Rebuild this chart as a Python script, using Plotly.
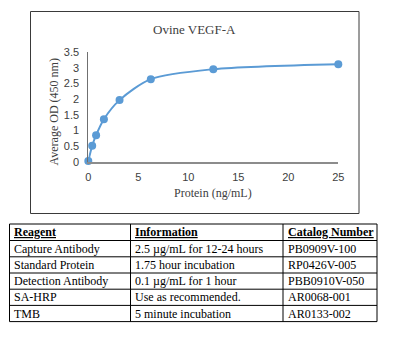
import plotly.graph_objects as go

W, H = 398, 356

protein = [0, 0.39, 0.78, 1.56, 3.125, 6.25, 12.5, 25]
od = [0.02, 0.51, 0.85, 1.36, 1.97, 2.64, 2.96, 3.12]

y_ticks = [0, 0.5, 1, 1.5, 2, 2.5, 3, 3.5]
y_tick_labels = ["0", "0.5", "1", "1.5", "2", "2.5", "3", "3.5"]
x_ticks = [0, 5, 10, 15, 20, 25]

title = "Ovine VEGF-A"
x_title = "Protein (ng/mL)"
y_title = "Average OD (450 nm)"

headers = ["Reagent", "Information", "Catalog Number"]
col_reagent = ["Capture Antibody", "Standard Protein", "Detection Antibody", "SA-HRP", "TMB"]
col_info = ["2.5 µg/mL for 12-24 hours", "1.75 hour incubation", "0.1 µg/mL for 1 hour",
            "Use as recommended.", "5 minute incubation"]
col_catalog = ["PB0909V-100", "RP0426V-005", "PBB0910V-050", "AR0068-001", "AR0133-002"]

def px(x):
    return x / W

def py(y):
    return 1 - y / H

SERIF = "Liberation Serif, Times New Roman, serif"
SANS = "Liberation Sans, Arial, sans-serif"

fig = go.Figure()
fig.add_trace(go.Scatter(
    x=protein, y=od, mode="lines+markers",
    line=dict(color="#5B9BD5", width=2, shape="spline", smoothing=0.8),
    marker=dict(color="#5B9BD5", size=8),
    cliponaxis=False, showlegend=False,
))

fig.update_layout(
    width=W, height=H,
    margin=dict(l=0, r=0, t=0, b=0, autoexpand=False),
    paper_bgcolor="white", plot_bgcolor="white",
    xaxis=dict(
        domain=[px(88.3), px(338.3)], range=[0, 25], automargin=False,
        tickvals=x_ticks, ticktext=[str(v) for v in x_ticks],
        showgrid=False, zeroline=False,
        showline=True, linecolor="#8c8c8c", linewidth=2,
        ticks="", tickfont=dict(family=SANS, size=11, color="#404040"),
        ticklabelstandoff=4,
    ),
    yaxis=dict(
        domain=[py(161.7), py(52.3)], range=[0, 3.5], automargin=False,
        tickvals=y_ticks, ticktext=y_tick_labels,
        showgrid=False, zeroline=False,
        showline=True, linecolor="#707070", linewidth=1,
        ticks="", tickfont=dict(family=SANS, size=11, color="#404040"),
        ticklabelstandoff=6,
    ),
)

shapes = []
annotations = []

# Chart frame
shapes.append(dict(type="rect", xref="paper", yref="paper",
                   x0=px(30.5), x1=px(359), y0=py(213.5), y1=py(11.5),
                   line=dict(color="#3a3a3a", width=1)))

annotations.append(dict(text=title, xref="paper", yref="paper", x=px(194.5), y=py(30),
                        showarrow=False, xanchor="center", yanchor="middle",
                        font=dict(family=SERIF, size=13, color="#404040")))
annotations.append(dict(text=x_title, xref="paper", yref="paper", x=px(213), y=py(192.5),
                        showarrow=False, xanchor="center", yanchor="middle",
                        font=dict(family=SERIF, size=12, color="#404040")))
annotations.append(dict(text=y_title, xref="paper", yref="paper", x=px(53.5), y=py(112),
                        showarrow=False, xanchor="center", yanchor="middle", textangle=-90,
                        font=dict(family=SERIF, size=12, color="#404040")))

# Table
col_x = [9.5, 130.5, 283, 377]
row_y = [224, 240.5, 256.8, 273, 289.2, 305.4, 321.6]
for x in col_x:
    shapes.append(dict(type="line", xref="paper", yref="paper",
                       x0=px(x), x1=px(x), y0=py(row_y[0]), y1=py(row_y[-1]),
                       line=dict(color="black", width=1)))
for y in row_y:
    shapes.append(dict(type="line", xref="paper", yref="paper",
                       x0=px(col_x[0]), x1=px(col_x[-1]), y0=py(y), y1=py(y),
                       line=dict(color="black", width=1)))

columns = [col_reagent, col_info, col_catalog]
for ci, (hdr, col) in enumerate(zip(headers, columns)):
    xl = col_x[ci] + 2.5
    yc = (row_y[0] + row_y[1]) / 2
    annotations.append(dict(text="<b><u>" + hdr + "</u></b>", xref="paper", yref="paper",
                            x=px(xl), y=py(yc), showarrow=False,
                            xanchor="left", yanchor="middle",
                            font=dict(family=SERIF, size=12, color="black")))
    for ri, val in enumerate(col):
        yc = (row_y[ri + 1] + row_y[ri + 2]) / 2
        annotations.append(dict(text=val, xref="paper", yref="paper",
                                x=px(xl), y=py(yc), showarrow=False,
                                xanchor="left", yanchor="middle",
                                font=dict(family=SERIF, size=12, color="black")))

fig.update_layout(shapes=shapes, annotations=annotations)
fig.write_html("out.html", config={"displayModeBar": False},
               post_script="document.body.style.margin='0';document.body.style.overflow='hidden';")
